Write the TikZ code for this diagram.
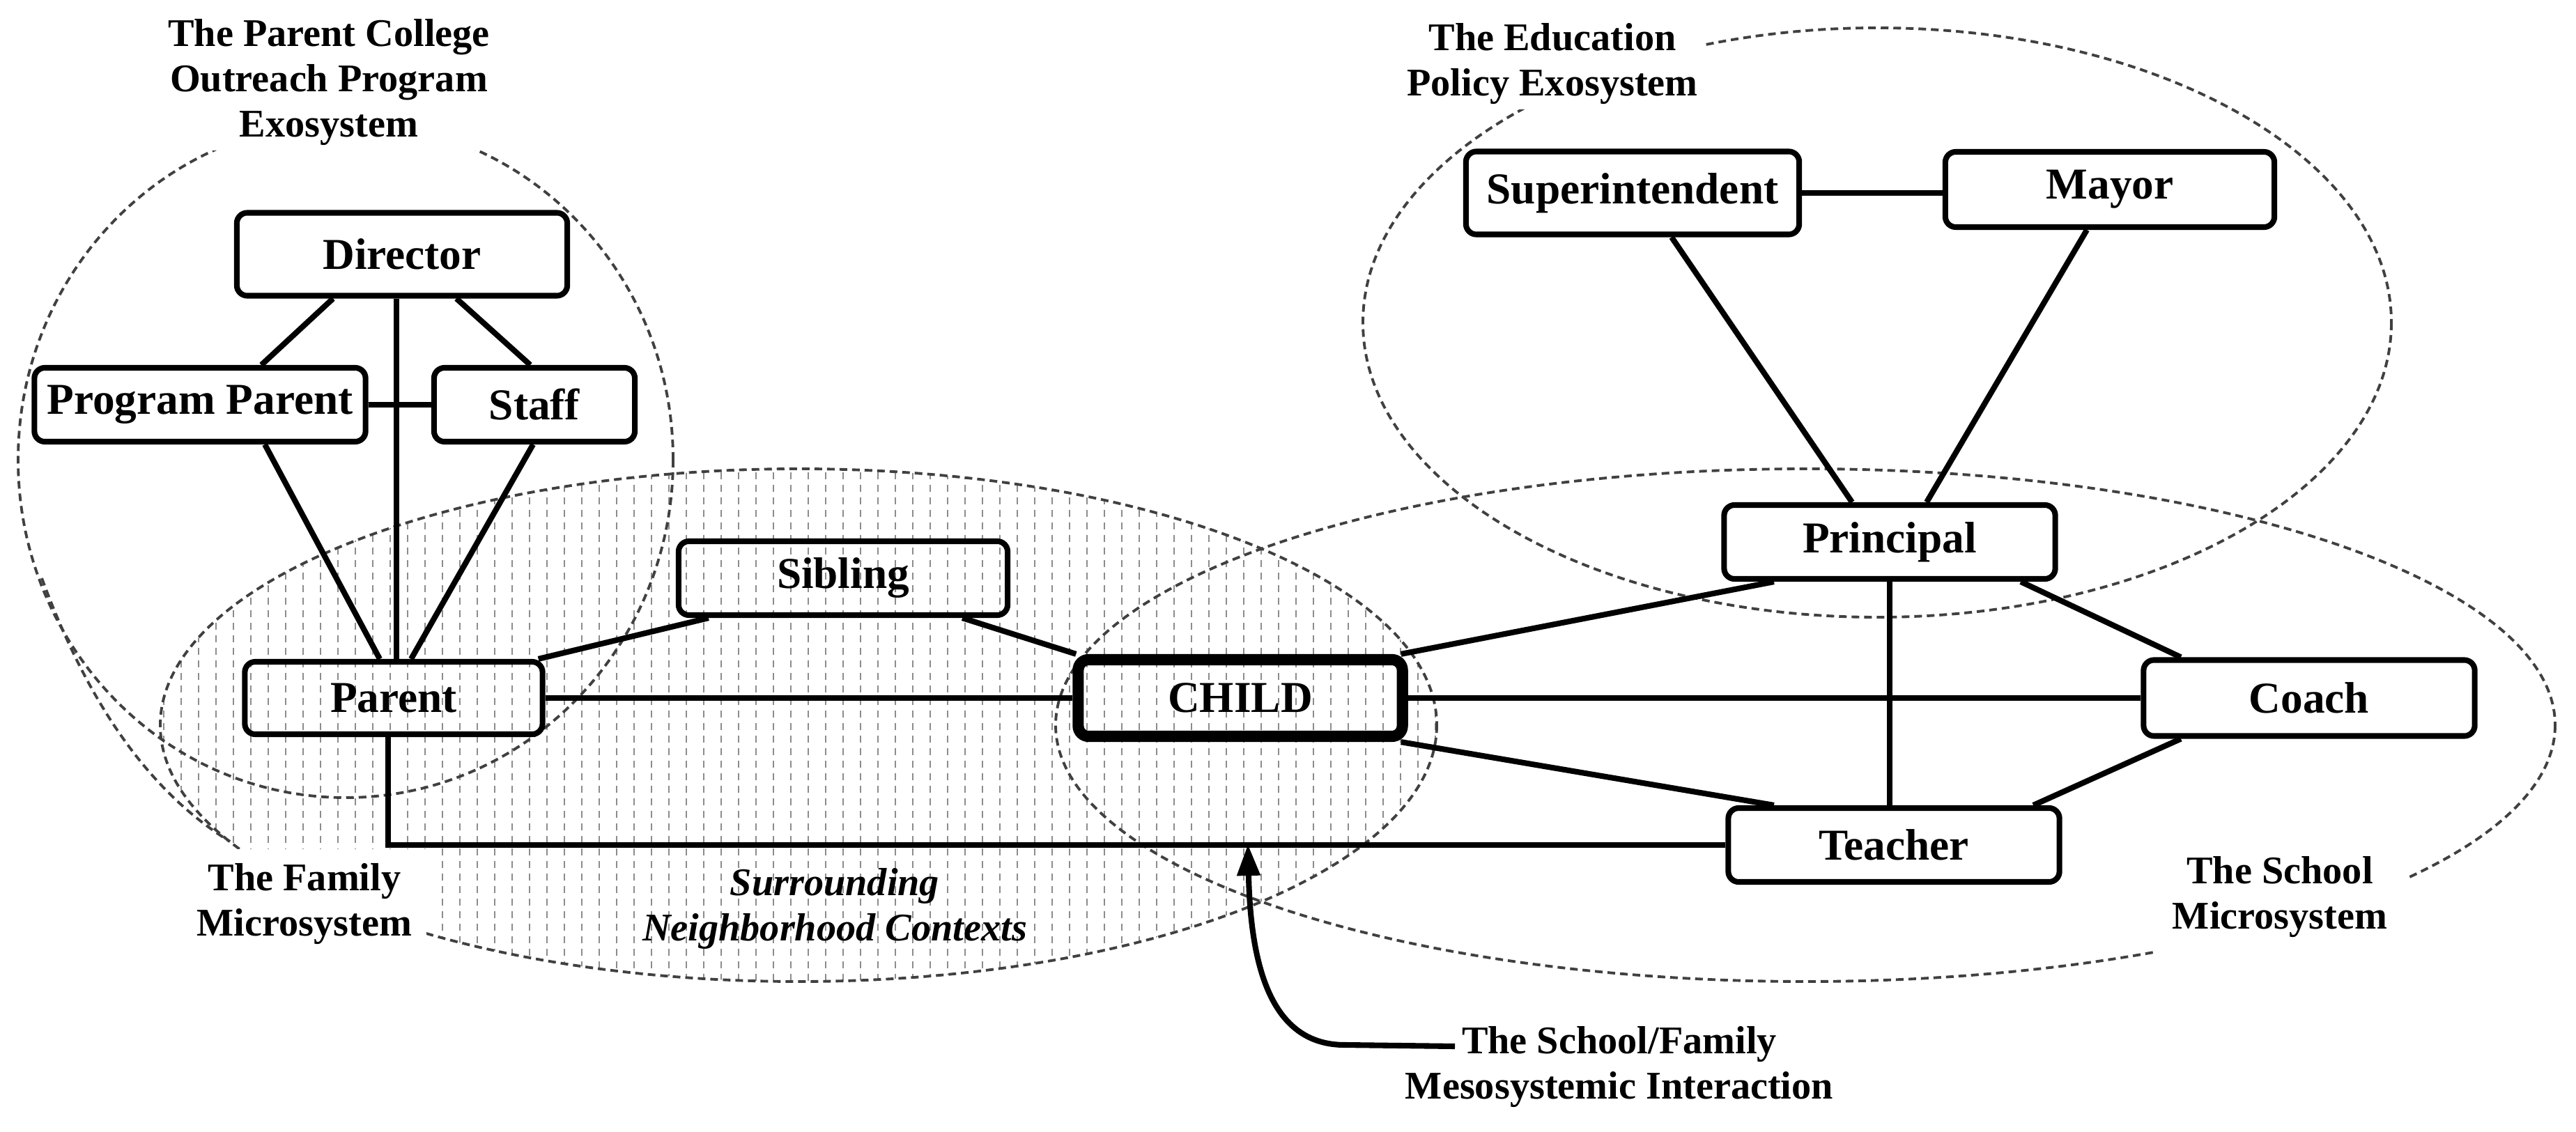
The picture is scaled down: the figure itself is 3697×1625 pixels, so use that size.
\documentclass[tikz,border=0pt]{standalone}
\usepackage{fontspec}
\setmainfont{Liberation Serif}
\usetikzlibrary{arrows.meta}
\begin{document}
\begin{tikzpicture}[x=0.01cm,y=-0.01cm,
  box/.style={draw,line width=2.3pt,rounded corners=0.15cm,minimum height=1.12cm,font=\fontsize{18}{20}\selectfont\bfseries,inner sep=0pt},
  conn/.style={line width=2.3pt},
  lab/.style={font=\fontsize{16}{18.5}\selectfont\bfseries,align=center,inner sep=2pt},
  sys/.style={black!75,line width=1.1pt,dash pattern=on 0.11cm off 0.07cm}]
\useasboundingbox (0,0) rectangle (3697,1625);
% neighborhood pattern
\begin{scope}
\clip (1146,1041) ellipse [x radius=916, y radius=368];
\foreach \x in {235,260,...,2070}
  \draw[black!45,line width=0.6pt,dash pattern=on 0.1cm off 0.08cm] (\x,660)--(\x,1420);
\end{scope}
\draw[sys] (1146,1041) ellipse [x radius=916, y radius=368];
% parent college circle
\draw[sys] (496,660) ellipse [x radius=470, y radius=485];
% family microsystem arc
\draw[sys] (60,830) .. controls (130,1020) and (220,1140) .. (330,1208);
% school microsystem
\draw[sys] (2591,1041) ellipse [x radius=1076, y radius=368];
% education policy
\draw[sys] (2694,463) ellipse [x radius=738, y radius=423];
% labels
\node[lab,fill=white] (lpc) at (472,118) {The Parent College\\Outreach Program\\Exosystem};
\node[lab,fill=white,inner sep=6pt] (lfam) at (437,1298) {The Family\\Microsystem};
\node[lab,font=\fontsize{16}{18.5}\selectfont\bfseries\itshape] (lsur) at (1198,1304) {Surrounding\\Neighborhood Contexts};
\node[lab,fill=white] (ledu) at (2228,92) {The Education\\Policy Exosystem};
\node[lab,fill=white,inner sep=8pt] (lsch) at (3272,1288) {The School\\Microsystem};
\node[lab] (lmeso) at (2324,1532) {The School/Family\\Mesosystemic Interaction};
% nodes
\node[box,minimum width=4.74cm,minimum height=1.19cm] (dir) at (577,365) {Director};
\node[box,minimum width=4.75cm,minimum height=1.06cm] (pp) at (287,581) {Program Parent};
\node[box,minimum width=2.88cm,minimum height=1.06cm] (staff) at (767,581) {Staff};
\node[box,minimum width=4.27cm,minimum height=1.04cm] (par) at (565,1002) {Parent};
\node[box,minimum width=4.72cm,minimum height=1.06cm] (sib) at (1210,830) {Sibling};
\node[box,line width=4.6pt,minimum width=4.65cm,minimum height=1.1cm] (ch) at (1780,1002) {CHILD};
\node[box,minimum width=4.78cm,minimum height=1.19cm] (sup) at (2343,277) {Superintendent};
\node[box,minimum width=4.72cm,minimum height=1.08cm] (may) at (3028,272) {Mayor};
\node[box,minimum width=4.75cm,minimum height=1.06cm] (pri) at (2712,778) {Principal};
\node[box,minimum width=4.75cm,minimum height=1.09cm] (coach) at (3314,1002) {Coach};
\node[box,minimum width=4.75cm,minimum height=1.06cm] (tea) at (2718,1213) {Teacher};
% connectors
\draw[conn] ([xshift=-0.99cm]dir.south) -- ([xshift=0.88cm]pp.north);
\draw[conn] ([xshift=0.78cm]dir.south) -- ([xshift=-0.06cm]staff.north);
\draw[conn] ([xshift=-0.08cm]dir.south) -- ([xshift=-0.08cm]dir.south |- par.north);
\draw[conn] (pp.east) -- (staff.west);
\draw[conn] ([xshift=0.93cm]pp.south) -- ([xshift=-0.2cm]par.north);
\draw[conn] ([xshift=-0.02cm]staff.south) -- ([xshift=0.25cm]par.north);
\draw[conn] ([xshift=-0.1cm]par.north east) -- ([xshift=-1.93cm]sib.south);
\draw[conn] ([xshift=1.71cm]sib.south) -- ([xshift=0.05cm]ch.north west);
\draw[conn] (par.east) -- (ch.west);
\draw[conn] ([xshift=-0.08cm]par.south) |- (tea.west);
\draw[conn] ([xshift=-0.1cm]ch.north east) -- ([xshift=-1.66cm]pri.south);
\draw[conn] (ch.east) -- (coach.west);
\draw[conn] ([xshift=-0.1cm]ch.south east) -- ([xshift=-1.72cm]tea.north);
\draw[conn] (pri.south) -- (pri.south |- tea.north);
\draw[conn] ([xshift=1.88cm]pri.south) -- ([xshift=-1.84cm]coach.north);
\draw[conn] ([xshift=2.0cm]tea.north) -- ([xshift=-1.84cm]coach.south);
\draw[conn] (sup.east) -- (sup.east -| may.west);
\draw[conn] ([xshift=0.56cm]sup.south) -- ([xshift=-0.54cm]pri.north);
\draw[conn] ([xshift=-0.33cm]may.south) -- ([xshift=0.53cm]pri.north);
% mesosystem arrow
\coordinate (mtip) at (1791,1212);
\coordinate (mstart) at (2088,1502);
\draw[conn,-{Triangle[length=0.45cm,width=0.32cm]}] (mstart) -- (1930,1500) .. controls (1830,1500) and (1795,1400) .. (mtip);
\end{tikzpicture}
\end{document}
